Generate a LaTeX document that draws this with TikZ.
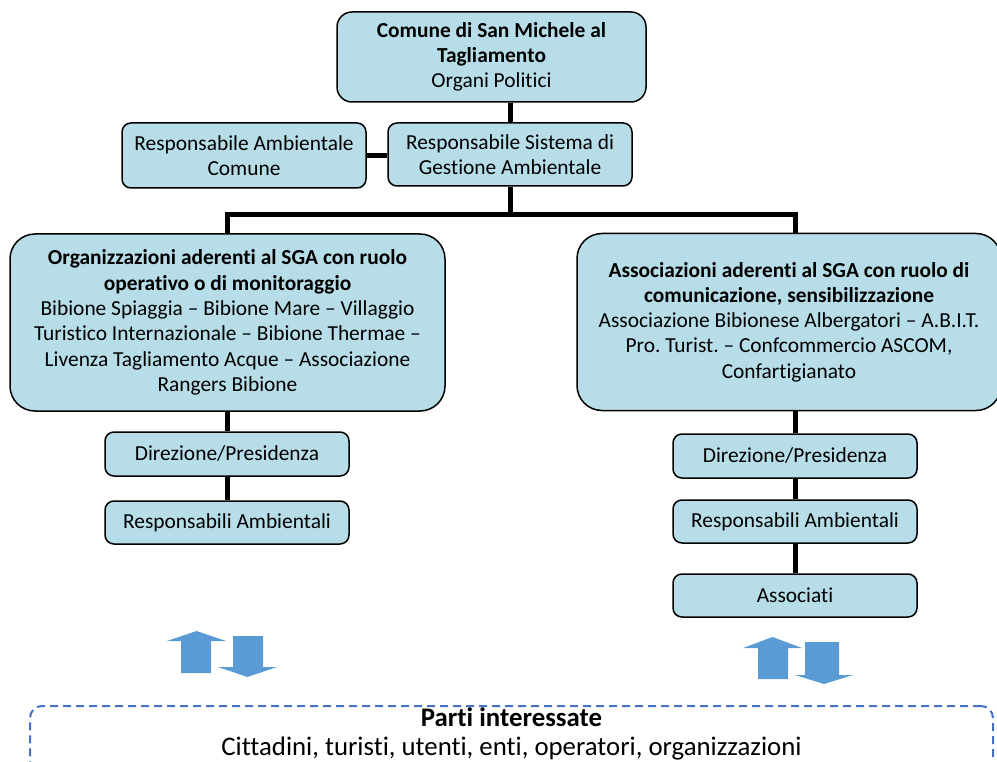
\documentclass[tikz,border=0pt]{standalone}
\usepackage{fontspec}
\setmainfont{Carlito}[Ligatures=NoCommon]
\frenchspacing
\definecolor{aqua}{HTML}{B7DEE8}
\definecolor{arrowblue}{HTML}{5B9BD5}
\definecolor{dashblue}{HTML}{4472C4}
\tikzset{
  orgbox/.style={draw=black,line width=1.5pt,fill=aqua,rounded corners=9pt,align=center,inner sep=2pt,minimum width=244pt},
  bigbox/.style={orgbox,rounded corners=25pt,minimum height=177pt},
  link/.style={line width=5pt},
}

\begin{document}
\begin{tikzpicture}[x=1pt,y=-1pt,font=\fontsize{21.4}{25.3}\selectfont]
\useasboundingbox (0,0) rectangle (997,762);
\node[orgbox,rounded corners=15pt,minimum width=309pt,minimum height=90pt] (comune) at (491.5,57) {\textbf{Comune di San Michele al}\\\textbf{Tagliamento}\\Organi Politici};
\node[orgbox,minimum height=63pt] (rsga) at (510,154.5) {Responsabile Sistema di\\Gestione Ambientale};
\node[orgbox,minimum height=65pt] (ramb) at (244,155.5) {Responsabile Ambientale\\Comune};
\node[bigbox,minimum width=435pt] (oper) at (227.5,322.5) {\textbf{Organizzazioni aderenti al SGA con ruolo}\\\textbf{operativo o di monitoraggio}\\Bibione Spiaggia -- Bibione Mare -- Villaggio\\Turistico Internazionale -- Bibione Thermae --\\Livenza Tagliamento Acque -- Associazione\\Rangers Bibione};
\node[bigbox,minimum width=424pt] (comun) at (789,322) {\textbf{Associazioni aderenti al SGA con ruolo di}\\\textbf{comunicazione, sensibilizzazione}\\Associazione Bibionese Albergatori -- A.B.I.T.\\Pro. Turist. -- Confcommercio ASCOM,\\Confartigianato};
\node[orgbox,minimum height=44pt] (ldir) at (227,454) {Direzione/Presidenza};
\node[orgbox,minimum height=43pt] (lresp) at (227,522.5) {Responsabili Ambientali};
\node[orgbox,minimum height=44pt] (rdir) at (795,456) {Direzione/Presidenza};
\node[orgbox,minimum height=43pt] (rresp) at (795,521.5) {Responsabili Ambientali};
\node[orgbox,minimum height=43pt] (assoc) at (795,595.5) {Associati};
\coordinate (bus) at (510,215);

\draw[link] (rsga.north) -- (rsga.north |- comune.south);
\draw[link] (ramb.east) -- (rsga.west |- ramb.east);
\draw[link] (rsga.south) -- (bus);
\draw[link] (oper.north) -- (oper.north |- bus) -- (rdir.north |- bus) -- (rdir.north |- comun.north);
\draw[link] (ldir.north) -- (ldir.north |- oper.south);
\draw[link] (ldir) -- (lresp);
\draw[link] (rdir.north) -- (rdir.north |- comun.south);
\draw[link] (rdir) -- (rresp);
\draw[link] (rresp) -- (assoc);

\fill[arrowblue] (196.5,631) -- (226,641) -- (211,641) -- (211,673) -- (181,673) -- (181,641) -- (167,641) -- cycle;
\fill[arrowblue] (247.5,677) -- (277,667) -- (263,667) -- (263,636) -- (233,636) -- (233,667) -- (218,667) -- cycle;
\fill[arrowblue] (772.5,637) -- (802,648) -- (788,648) -- (788,679) -- (758,679) -- (758,648) -- (743,648) -- cycle;
\fill[arrowblue] (824,684) -- (853,675) -- (839,675) -- (839,642) -- (805,642) -- (805,675) -- (795,675) -- cycle;

\node[draw=dashblue,line width=2pt,dash pattern=on 8pt off 5pt,rounded corners=12pt,minimum width=963pt,minimum height=110pt,anchor=north] (parti) at (511.5,705) {};
\node[font=\fontsize{26.8}{29}\selectfont,align=center,anchor=north,inner sep=1pt] (partitxt) at ([yshift=-1pt]parti.north) {\textbf{Parti interessate}\\Cittadini, turisti, utenti, enti, operatori, organizzazioni};
\end{tikzpicture}
\end{document}
